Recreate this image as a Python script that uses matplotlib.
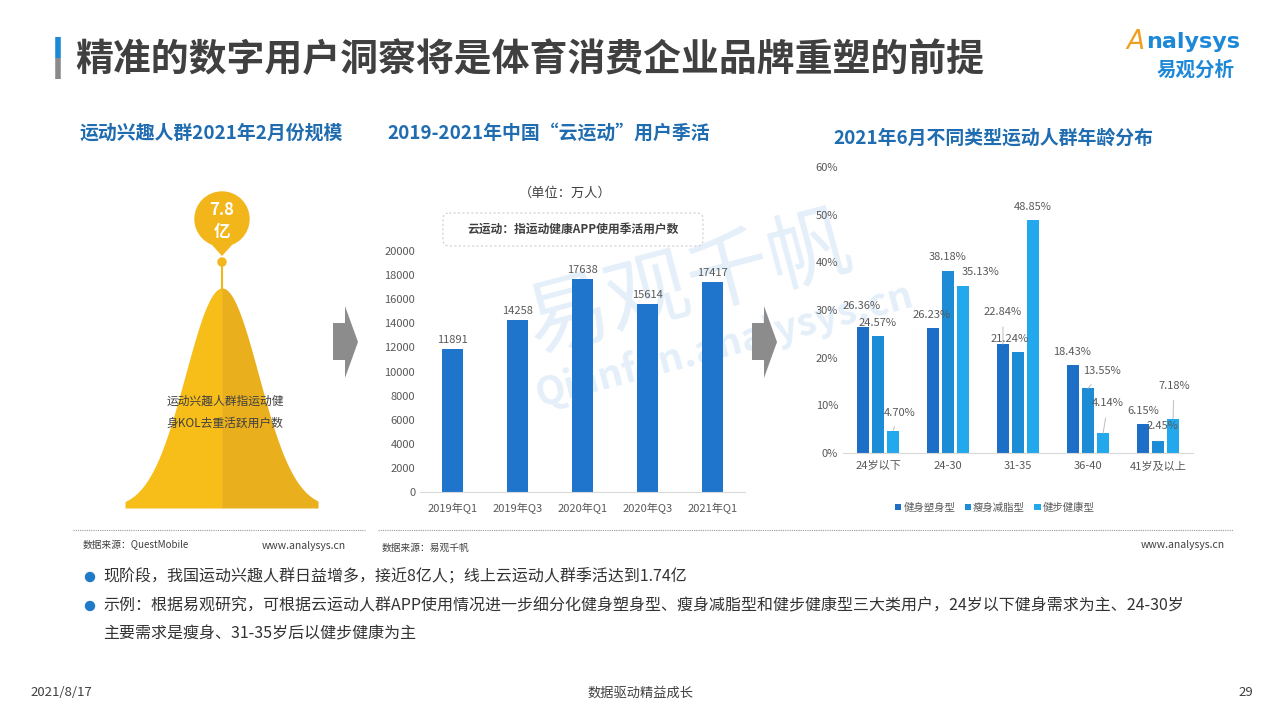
import matplotlib
matplotlib.use('Agg')
import matplotlib.pyplot as plt
import numpy as np
from matplotlib.patches import Circle, Polygon, FancyBboxPatch
from matplotlib.ticker import FuncFormatter

plt.rcParams['font.family'] = ['Noto Sans CJK SC', 'DejaVu Sans']

# ---- data ----
scale_value = '7.8'
scale_unit = '亿'
quarters = ['2019年Q1', '2019年Q3', '2020年Q1', '2020年Q3', '2021年Q1']
active_users = [11891, 14258, 17638, 15614, 17417]
age_groups = ['24岁以下', '24-30', '31-35', '36-40', '41岁及以上']
series_names = ['健身塑身型', '瘦身减脂型', '健步健康型']
shape_fit = [26.36, 26.23, 22.84, 18.43, 6.15]
slim_fat = [24.57, 38.18, 21.24, 13.55, 2.45]
walk_health = [4.70, 35.13, 48.85, 4.14, 7.18]

# label offsets (pixels, right/up) and whether a leader line is drawn
label_offsets = [
    [(-1, 21), (-1, 13), (0, 32), (-1, 13), (0, 13)],
    [(0, 13), (0, 14), (-8, 13), (14, 17), (4, 15)],
    [(7, 18), (17, 14), (0, 13), (5, 30), (1, 33)],
]
leaders = [
    [False, False, True, False, False],
    [False, False, False, True, True],
    [True, False, False, True, True],
]

W, H = 1280, 720
fig = plt.figure(figsize=(12.8, 7.2), dpi=100)


def rect(x0, y0, x1, y1):
    return [x0 / W, 1 - y1 / H, (x1 - x0) / W, (y1 - y0) / H]


# overlay in pixel coordinates for page decoration
ov = fig.add_axes([0, 0, 1, 1])
ov.set_xlim(0, W)
ov.set_ylim(H, 0)
ov.axis('off')

gray_txt = '#404040'
title_blue = '#1f6cb0'

# watermark
ov.text(690, 285, '易观千帆', fontsize=60, color='#e4eff9', rotation=15,
        ha='center', va='center', zorder=0.5)
ov.text(725, 345, 'Qianfan.analysys.cn', fontsize=28, fontweight='bold',
        color='#e4eff9', rotation=15, ha='center', va='center', zorder=0.5)

# page title
ov.plot([58, 58], [37, 58], color='#1e88d8', lw=4, solid_capstyle='butt')
ov.plot([58, 58], [58, 79], color='#8a8a8a', lw=4, solid_capstyle='butt')
ov.text(75, 60, '精准的数字用户洞察将是体育消费企业品牌重塑的前提', fontsize=27.3,
        fontweight='bold', color=gray_txt, va='center')

# logo
ov.text(1126, 42, 'A', fontsize=19, fontstyle='italic', color='#f0a020',
        va='center', family=['DejaVu Sans'])
ov.text(1146, 42, 'nalysys', fontsize=16, fontweight='bold', color='#1e88d8',
        va='center', family=['DejaVu Sans'])
ov.text(1196, 70, '易观分析', fontsize=14, fontweight='bold', color='#1e88d8',
        ha='center', va='center')

# panel titles
ov.text(80, 133, '运动兴趣人群2021年2月份规模', fontsize=13.6, fontweight='bold',
        color=title_blue, va='center')
ov.text(387, 133, '2019-2021年中国“云运动”用户季活', fontsize=13.6,
        fontweight='bold', color=title_blue, va='center')
ov.text(833, 138, '2021年6月不同类型运动人群年龄分布', fontsize=13.6,
        fontweight='bold', color=title_blue, va='center')

# bell shape with balloon
xs = np.linspace(125, 318, 400)
ys = 508 - 220 * np.exp(-(xs - 222) ** 2 / (2 * 36.5 ** 2))
left = xs <= 222.5
right = xs >= 221.5
ov.fill_between(xs[left], ys[left], 508, color='#f7bd19', lw=0)
ov.fill_between(xs[right], ys[right], 508, color='#e9af1c', lw=0)
ov.plot([222, 222], [262, 289], color='#f2b51a', lw=1.5)
ov.add_patch(Circle((222, 262), 4, color='#f2b51a'))
ov.add_patch(Polygon([(204, 236), (240, 236), (222, 256)], closed=True,
                     color='#f2b51a', lw=0))
ov.add_patch(Circle((222, 219), 27, color='#f2b51a'))
ov.text(222, 210, scale_value, fontsize=12, fontweight='bold', color='white',
        ha='center', va='center')
ov.text(222, 232, scale_unit, fontsize=12, fontweight='bold', color='white',
        ha='center', va='center')
ov.text(225, 401, '运动兴趣人群指运动健', fontsize=8.5, color=gray_txt,
        ha='center', va='center')
ov.text(225, 423, '身KOL去重活跃用户数', fontsize=8.5, color=gray_txt,
        ha='center', va='center')

# gray arrows
for x0 in (333, 752):
    ov.add_patch(Polygon([(x0, 323), (x0 + 12, 323), (x0 + 12, 306),
                          (x0 + 25, 342), (x0 + 12, 378), (x0 + 12, 360),
                          (x0, 360)], closed=True, color='#8c8c8c', lw=0,
                         zorder=2))

# middle chart annotations
ov.text(565, 193, '（单位：万人）', fontsize=9.5, color=gray_txt,
        ha='center', va='center')
ov.add_patch(FancyBboxPatch((443, 213), 260, 33,
                            boxstyle='round,pad=0,rounding_size=6',
                            fc='none', ec='#cfcfcf', lw=0.8, ls=(0, (2, 2))))
ov.text(573, 229, '云运动：指运动健康APP使用季活用户数', fontsize=8.5,
        fontweight='bold', color=gray_txt, ha='center', va='center')

# separators and sources
ov.plot([73, 365], [530, 530], ls=(0, (1, 1)), color='#9a9a9a', lw=0.8)
ov.plot([378, 1233], [530, 530], ls=(0, (1, 1)), color='#9a9a9a', lw=0.8)
ov.text(83, 545, '数据来源：QuestMobile', fontsize=7, color=gray_txt, va='center')
ov.text(262, 546, 'www.analysys.cn', fontsize=7.5, color=gray_txt, va='center')
ov.text(382, 548, '数据来源：易观千帆', fontsize=7, color=gray_txt, va='center')
ov.text(1225, 545, 'www.analysys.cn', fontsize=7.5, color=gray_txt,
        ha='right', va='center')

# bullet text
bullet_color = '#1f7ac8'
ov.add_patch(Circle((90, 577), 4.5, color=bullet_color))
ov.text(103, 577, '现阶段，我国运动兴趣人群日益增多，接近8亿人；线上云运动人群季活达到1.74亿',
        fontsize=11.5, color='#333333', va='center')
ov.add_patch(Circle((90, 606), 4.5, color=bullet_color))
ov.text(103, 606, '示例：根据易观研究，可根据云运动人群APP使用情况进一步细分化健身塑身型、瘦身减脂型和健步健康型三大类用户，24岁以下健身需求为主、24-30岁',
        fontsize=11.5, color='#333333', va='center')
ov.text(103, 634, '主要需求是瘦身、31-35岁后以健步健康为主',
        fontsize=11.5, color='#333333', va='center')

# footer
ov.text(30, 693, '2021/8/17', fontsize=9.5, color=gray_txt, va='center')
ov.text(640, 693, '数据驱动精益成长', fontsize=9.5, color=gray_txt,
        ha='center', va='center')
ov.text(1253, 693, '29', fontsize=9.5, color=gray_txt, ha='right', va='center')

# ---- middle bar chart ----
ax1 = fig.add_axes(rect(420, 251, 745, 492))
ax1.set_facecolor('none')
x1 = np.arange(len(quarters))
bars = ax1.bar(x1, active_users, width=0.31, color='#1f74cc')
ax1.bar_label(bars, padding=3, fontsize=8, color='#595959')
ax1.set_xlim(-0.5, len(quarters) - 0.5)
ax1.set_ylim(0, 20000)
ax1.set_yticks(range(0, 20001, 2000))
ax1.set_xticks(x1)
ax1.set_xticklabels(quarters)
for s in ('top', 'right', 'left'):
    ax1.spines[s].set_visible(False)
ax1.spines['bottom'].set_color('#d9d9d9')
ax1.tick_params(length=0, labelsize=8, labelcolor='#595959')
ax1.tick_params(axis='x', pad=8)

# ---- right grouped bar chart ----
ax2 = fig.add_axes(rect(843, 167, 1193, 453))
ax2.set_facecolor('none')
x2 = np.arange(len(age_groups))
series = [shape_fit, slim_fat, walk_health]
colors = ['#1d6ec6', '#1b8cd5', '#22a8ec']
step = 0.215
handles = []
for i, (vals, col) in enumerate(zip(series, colors)):
    pos = x2 + (i - 1) * step
    b = ax2.bar(pos, vals, width=0.17, color=col, label=series_names[i])
    handles.append(b)
    for j, v in enumerate(vals):
        dx, dy = label_offsets[i][j]
        props = None
        if leaders[i][j]:
            props = dict(arrowstyle='-', color='#bdbdbd', lw=0.7,
                         shrinkA=5, shrinkB=0)
        ax2.annotate(f'{v:.2f}%', xy=(pos[j], v), xytext=(dx, dy),
                     textcoords='offset pixels', ha='center', va='center',
                     fontsize=8, color='#595959', arrowprops=props)
ax2.set_xlim(-0.5, len(age_groups) - 0.5)
ax2.set_ylim(0, 60)
ax2.set_yticks(range(0, 61, 10))
ax2.yaxis.set_major_formatter(FuncFormatter(lambda v, p: f'{v:.0f}%'))
ax2.set_xticks(x2)
ax2.set_xticklabels(age_groups)
for s in ('top', 'right', 'left'):
    ax2.spines[s].set_visible(False)
ax2.spines['bottom'].set_color('#d9d9d9')
ax2.tick_params(length=0, labelsize=8, labelcolor='#595959')
ax2.tick_params(axis='x', pad=6)
ax2.legend(handles=handles, loc='center', bbox_to_anchor=(0.434, -0.19),
           ncol=3, frameon=False, fontsize=7.5, handlelength=0.6,
           handleheight=0.6, columnspacing=0.9, handletextpad=0.2,
           labelcolor='#595959')

fig.savefig('out.png', dpi=100)
